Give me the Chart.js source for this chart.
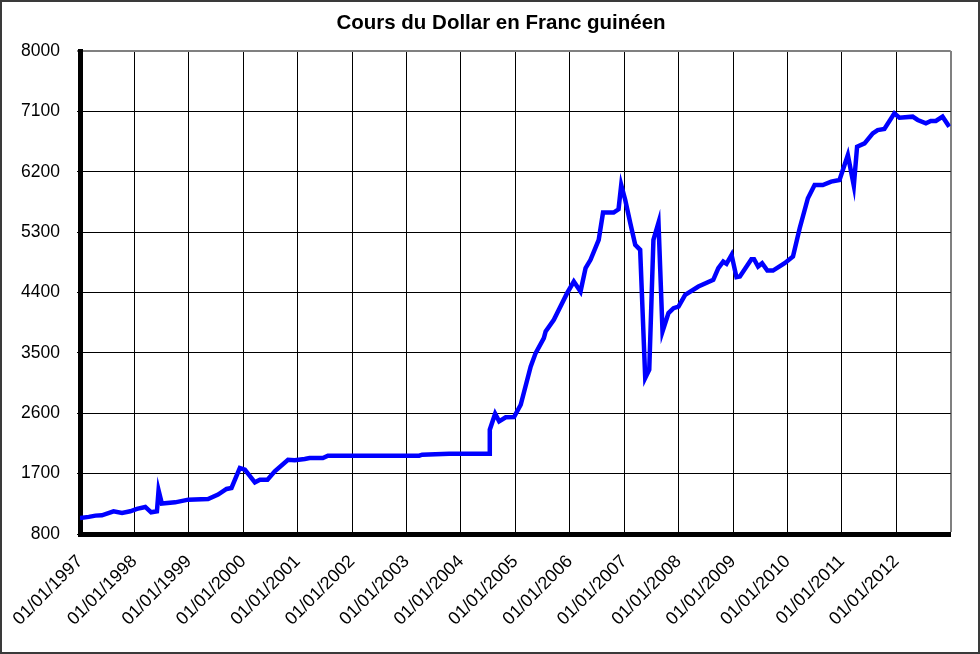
<!DOCTYPE html>
<html>
<head>
<meta charset="utf-8">
<script src="https://cdn.jsdelivr.net/npm/chart.js@4/dist/chart.umd.min.js"></script>
<style>
  html, body { margin: 0; padding: 0; background: #fff; }
  #wrap { width: 980px; height: 654px; position: relative; }
</style>
</head>
<body>
<div id="wrap"><canvas id="c" width="980" height="654"></canvas></div>
<script>
const chartTitle = 'Cours du Dollar en Franc guinéen';

const dates = [
  '1997-01-01','1997-03-01','1997-04-15','1997-05-28','1997-08-14','1997-10-10','1997-12-04',
  '1998-01-18','1998-03-15','1998-04-23','1998-06-01','1998-06-12','1998-07-04','1998-10-01','1998-12-28',
  '1999-05-10','1999-07-16','1999-09-11','1999-10-14','1999-12-09',
  '2000-01-12','2000-03-19','2000-04-22','2000-06-12','2000-07-31','2000-10-28','2000-12-12',
  '2001-02-17','2001-03-22','2001-06-19','2001-07-23',
  '2003-03-27','2003-04-16','2003-10-14',
  '2004-07-08','2004-07-13','2004-08-18','2004-09-14','2004-10-28','2004-12-23',
  '2005-02-06','2005-04-14','2005-05-17','2005-07-11','2005-07-23','2005-09-16','2005-12-14',
  '2006-01-28','2006-03-14','2006-04-17','2006-05-20','2006-07-14','2006-08-12','2006-10-22','2006-11-24','2006-12-12',
  '2007-01-08','2007-02-11','2007-03-16','2007-04-18','2007-05-22','2007-06-18','2007-07-16','2007-08-19','2007-09-15','2007-10-25','2007-11-28','2007-12-31',
  '2008-02-14','2008-05-13','2008-08-21','2008-09-24','2008-10-27','2008-11-18','2008-12-22',
  '2009-01-24','2009-02-16','2009-05-04','2009-05-22','2009-06-18','2009-07-15','2009-08-19','2009-09-26','2009-12-13',
  '2010-02-07','2010-03-24','2010-05-18','2010-07-02','2010-08-26','2010-10-21','2010-12-16',
  '2011-02-10','2011-03-22','2011-04-13','2011-06-02','2011-07-27','2011-08-29','2011-10-13','2011-12-19',
  '2012-01-22','2012-04-20','2012-05-24','2012-07-18','2012-08-20','2012-09-23','2012-11-07','2012-12-22'
];

const rates = [
  1040,1055,1074,1078,1138,1114,1138,
  1174,1203,1123,1138,1451,1253,1272,1312,
  1322,1387,1471,1486,1784,
  1759,1570,1610,1610,1734,1905,1898,
  1918,1933,1933,1968,
  1968,1982,1997,
  1997,2355,2593,2479,2540,2543,
  2727,3297,3497,3720,3819,3993,4390,
  4563,4414,4763,4887,5185,5591,5591,5641,6003,
  5780,5433,5110,5036,3125,3249,5185,5442,3819,4093,4167,4191,
  4365,4489,4589,4763,4861,4827,4961,
  4629,4638,4897,4897,4787,4837,4727,4727,4837,
  4936,5358,5805,6003,6003,6053,6078,
  6450,5993,6574,6623,6772,6822,6837,7071,
  7006,7021,6972,6922,6957,6957,7021,6872
];

const yearLabels = ['01/01/1997','01/01/1998','01/01/1999','01/01/2000','01/01/2001','01/01/2002',
  '01/01/2003','01/01/2004','01/01/2005','01/01/2006','01/01/2007','01/01/2008',
  '01/01/2009','01/01/2010','01/01/2011','01/01/2012'];
const yearTicks = [1997,1998,1999,2000,2001,2002,2003,2004,2005,2006,2007,2008,2009,2010,2011,2012,2013];
const yTicks = [800,1700,2600,3500,4400,5300,6200,7100,8000];

function toYear(s) {
  const [y, m, d] = s.split('-').map(Number);
  const a = Date.UTC(y, 0, 1), b = Date.UTC(y + 1, 0, 1);
  return y + (Date.UTC(y, m - 1, d) - a) / (b - a);
}

const points = dates.map((d, i) => ({ x: toYear(d), y: rates[i] }));

const FONT = "'Liberation Sans', Arial, sans-serif";

const framePlugin = {
  id: 'frame',
  beforeDraw(chart) {
    const ctx = chart.ctx;
    ctx.save();
    ctx.fillStyle = '#fff';
    ctx.fillRect(0, 0, chart.width, chart.height);
    ctx.restore();
  },
  afterDraw(chart) {
    const ctx = chart.ctx;
    ctx.save();
    ctx.fillStyle = '#000';
    ctx.font = 'bold 20.5px ' + FONT;
    ctx.textAlign = 'center';
    ctx.textBaseline = 'middle';
    ctx.fillText(chartTitle, 501, 23);
    ctx.strokeStyle = '#3a3a3a';
    ctx.lineWidth = 2;
    ctx.strokeRect(1, 1, chart.width - 2, chart.height - 2);
    ctx.restore();
  }
};

new Chart(document.getElementById('c'), {
  type: 'line',
  data: {
    datasets: [{
      data: points,
      borderColor: '#0000ff',
      borderWidth: 4.5,
      pointRadius: 0,
      tension: 0,
      fill: false
    }]
  },
  plugins: [framePlugin],
  options: {
    responsive: false,
    animation: false,
    layout: { padding: { left: 10, right: 28, top: 51, bottom: 0 } },
    plugins: {
      legend: { display: false },
      tooltip: { enabled: false },
      title: { display: false }
    },
    scales: {
      x: {
        type: 'linear',
        min: 1997,
        max: 2013,
        afterBuildTicks(scale) { scale.ticks = yearTicks.map(v => ({ value: v })); },
        afterFit(scale) { scale.height = 120; },
        grid: {
          color: (c) => (c.tick && c.tick.value === 2013) ? '#808080' : '#000',
          lineWidth: (c) => (c.tick && c.tick.value === 2013) ? 2 : 1,
          tickLength: 3
        },
        border: { color: '#000', width: 5 },
        ticks: {
          autoSkip: false,
          minRotation: 45,
          maxRotation: 45,
          padding: 14,
          color: '#000',
          font: { family: FONT, size: 18 },
          callback: (v) => yearLabels[yearTicks.indexOf(v)] || ''
        }
      },
      y: {
        min: 800,
        max: 8000,
        afterBuildTicks(scale) { scale.ticks = yTicks.map(v => ({ value: v })); },
        afterFit(scale) { scale.width = 70; },
        grid: {
          color: (c) => (c.tick && c.tick.value === 8000) ? '#808080' : '#000',
          lineWidth: (c) => (c.tick && c.tick.value === 8000) ? 2 : 1,
          tickLength: 3
        },
        border: { color: '#000', width: 5 },
        ticks: {
          padding: 17,
          color: '#000',
          font: { family: FONT, size: 17.5 },
          callback: (v) => String(v)
        }
      }
    }
  }
});
</script>
</body>
</html>
